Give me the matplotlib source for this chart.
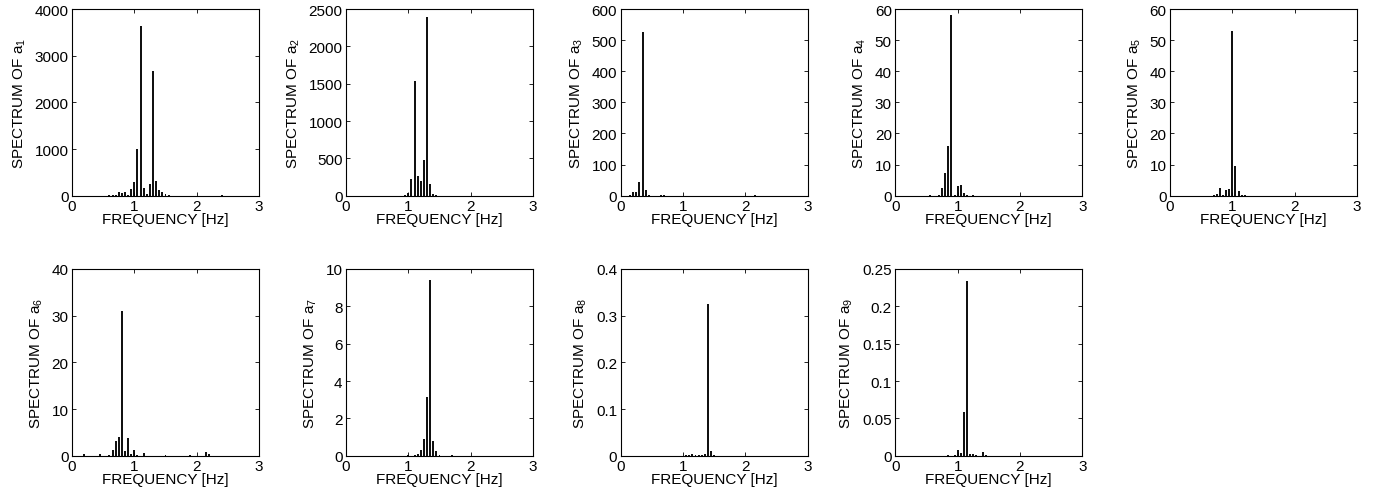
import matplotlib
matplotlib.use("Agg")
import matplotlib.pyplot as plt

plt.rcParams['font.family'] = ['Liberation Sans', 'DejaVu Sans']
plt.rcParams['mathtext.fontset'] = 'custom'
plt.rcParams['mathtext.rm'] = 'Liberation Sans'
plt.rcParams['mathtext.it'] = 'Liberation Sans'
plt.rcParams['font.size'] = 11

# Spectral amplitudes of the modal coordinates a_1 ... a_9 (frequency in Hz)
freq_a1 = [0.6, 0.65, 0.7, 0.75, 0.8, 0.85, 0.9, 0.95, 1.0, 1.05, 1.1, 1.15, 1.2, 1.25, 1.3, 1.35, 1.4, 1.45, 1.5, 1.55, 2.4]
spec_a1 = [12, 15, 20, 70, 60, 85, 25, 140, 290, 1000, 3640, 165, 30, 250, 2680, 320, 120, 70, 40, 10, 8]

freq_a2 = [0.95, 1.0, 1.05, 1.1, 1.15, 1.2, 1.25, 1.3, 1.35, 1.4, 1.45]
spec_a2 = [8, 35, 222, 1535, 267, 200, 476, 2393, 156, 20, 6]

freq_a3 = [0.15, 0.2, 0.25, 0.3, 0.35, 0.4, 0.45, 0.65, 0.7, 2.15]
spec_a3 = [2, 11, 11, 43, 525, 18, 2, 1.5, 3, 1]

freq_a4 = [0.55, 0.7, 0.75, 0.8, 0.85, 0.9, 0.95, 1.0, 1.05, 1.1, 1.15, 1.25]
spec_a4 = [0.3, 0.1, 2.5, 7.3, 16, 58, 0.2, 3.2, 3.5, 0.9, 0.1, 0.2]

freq_a5 = [0.7, 0.75, 0.8, 0.85, 0.9, 0.95, 1.0, 1.05, 1.1, 1.15, 1.2]
spec_a5 = [0.2, 0.5, 2.6, 0.2, 1.9, 2.0, 53, 9.4, 1.4, 0.3, 0.1]

freq_a6 = [0.2, 0.45, 0.6, 0.65, 0.7, 0.75, 0.8, 0.85, 0.9, 0.95, 1.0, 1.05, 1.15, 1.5, 1.9, 2.15, 2.2]
spec_a6 = [0.3, 0.3, 0.15, 1.2, 3.1, 3.9, 31, 0.9, 3.8, 0.35, 1.2, 0.2, 0.6, 0.2, 0.2, 0.7, 0.4]

freq_a7 = [1.0, 1.1, 1.15, 1.2, 1.25, 1.3, 1.35, 1.4, 1.45, 1.5, 1.7]
spec_a7 = [0.05, 0.03, 0.07, 0.28, 0.9, 3.13, 9.43, 0.8, 0.25, 0.05, 0.04]

freq_a8 = [1.05, 1.1, 1.15, 1.2, 1.25, 1.3, 1.35, 1.4, 1.45, 1.5]
spec_a8 = [0.001, 0.0015, 0.0035, 0.001, 0.0015, 0.002, 0.0035, 0.325, 0.009, 0.001]

freq_a9 = [0.85, 0.95, 1.0, 1.05, 1.1, 1.15, 1.2, 1.25, 1.3, 1.4, 1.45]
spec_a9 = [0.001, 0.0008, 0.0076, 0.0036, 0.0585, 0.2335, 0.0027, 0.0018, 0.001, 0.0054, 0.001]

series = [
    (freq_a1, spec_a1, [0, 1000, 2000, 3000, 4000], ['0', '1000', '2000', '3000', '4000']),
    (freq_a2, spec_a2, [0, 500, 1000, 1500, 2000, 2500], ['0', '500', '1000', '1500', '2000', '2500']),
    (freq_a3, spec_a3, [0, 100, 200, 300, 400, 500, 600], ['0', '100', '200', '300', '400', '500', '600']),
    (freq_a4, spec_a4, [0, 10, 20, 30, 40, 50, 60], ['0', '10', '20', '30', '40', '50', '60']),
    (freq_a5, spec_a5, [0, 10, 20, 30, 40, 50, 60], ['0', '10', '20', '30', '40', '50', '60']),
    (freq_a6, spec_a6, [0, 10, 20, 30, 40], ['0', '10', '20', '30', '40']),
    (freq_a7, spec_a7, [0, 2, 4, 6, 8, 10], ['0', '2', '4', '6', '8', '10']),
    (freq_a8, spec_a8, [0, 0.1, 0.2, 0.3, 0.4], ['0', '0.1', '0.2', '0.3', '0.4']),
    (freq_a9, spec_a9, [0, 0.05, 0.1, 0.15, 0.2, 0.25], ['0', '0.05', '0.1', '0.15', '0.2', '0.25']),
]

W, H = 1388, 502
fig = plt.figure(figsize=(W / 100, H / 100), dpi=100)

col_left = [72, 346, 620.7, 895.3, 1170]
row_top = [10, 270]
ax_w, ax_h = 187, 186.7

for i, (f, s, yt, ytl) in enumerate(series):
    r, c = divmod(i, 5)
    left = col_left[c] / W
    bottom = 1 - (row_top[r] + ax_h) / H
    ax = fig.add_axes([left, bottom, ax_w / W, ax_h / H])
    ax.bar(f, s, width=0.032, color='#111111', edgecolor='none')
    ax.set_xlim(0, 3)
    ax.set_ylim(yt[0], yt[-1])
    ax.set_xticks([0, 1, 2, 3])
    ax.set_xticklabels(['0', '1', '2', '3'])
    ax.set_yticks(yt)
    ax.set_yticklabels(ytl)
    ax.tick_params(direction='in', top=True, right=True, length=3, width=0.6,
                   labelsize=11, pad=2.5)
    for sp in ax.spines.values():
        sp.set_linewidth(0.8)
    ax.set_xlabel('FREQUENCY [Hz]', fontsize=11, labelpad=-0.5)
    ax.set_ylabel('SPECTRUM OF a$_{%d}$' % (i + 1), fontsize=11, labelpad=5)

fig.savefig('out.png', dpi=100)
